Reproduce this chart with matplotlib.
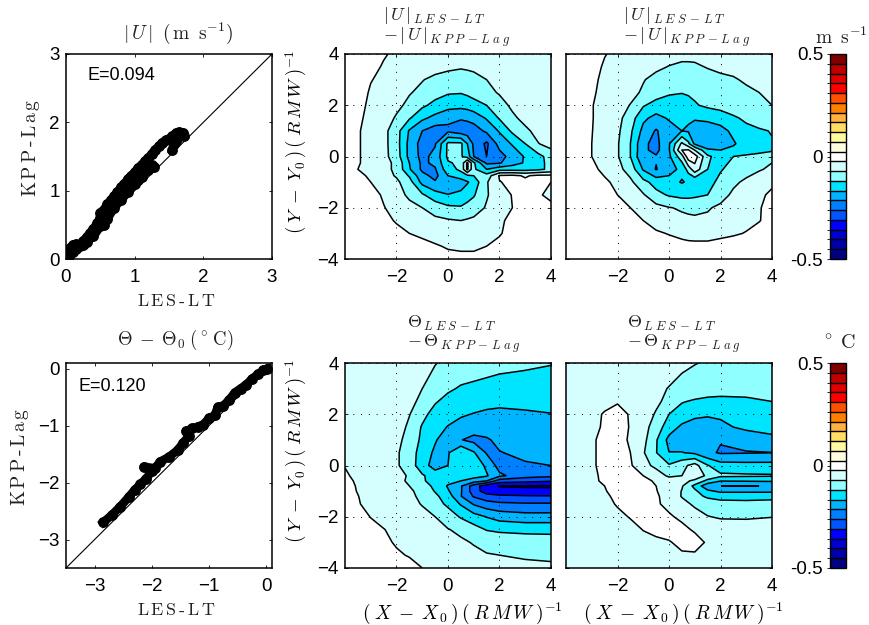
import numpy as np
import matplotlib
matplotlib.use('Agg')
import matplotlib.pyplot as plt
from matplotlib.colors import ListedColormap, BoundaryNorm
from matplotlib.cm import ScalarMappable

plt.rcParams['font.family'] = ['Liberation Sans', 'DejaVu Sans']
plt.rcParams['mathtext.fontset'] = 'cm'

W, H = 870, 625

# colour steps of the bar, bottom to top
bar_colors = ['#000080', '#0000a8', '#0000d0', '#0000ff', '#0055ff', '#0080ff', '#00b4ff',
              '#00e5ff', '#8fffff', '#d5ffff', '#ffffff', '#fffde0', '#fffaa0', '#ffdc64',
              '#ffb040', '#ff8000', '#ff5000', '#ff0000', '#e00000', '#c00000', '#800000']
bar_ticks = [-0.5, 0, 0.5]
bar_ticklabels = ['-0.5', '0', '0.5']

# scatter panels: |U|
u_les = [0.02, 0.05, 0.1, 0.15, 0.2, 0.25, 0.3, 0.35, 0.4, 0.45, 0.5, 0.5, 0.55, 0.6, 0.65, 0.7, 0.75, 0.8,
         0.85, 0.9, 0.95, 1.0, 1.05, 1.1, 1.15, 1.2, 1.25, 1.3, 1.35, 1.4, 1.45, 1.5, 1.55, 1.6, 1.65, 1.7, 1.72]
u_kpp = [0.02, 0.05, 0.1, 0.14, 0.2, 0.26, 0.32, 0.38, 0.44, 0.52, 0.6, 0.68, 0.72, 0.8, 0.86, 0.92, 0.98, 1.05,
         1.1, 1.17, 1.22, 1.27, 1.33, 1.38, 1.43, 1.48, 1.54, 1.6, 1.65, 1.7, 1.74, 1.76, 1.8, 1.84, 1.86, 1.85, 1.8]
u_les2 = [0.3, 0.4, 0.5, 0.55, 0.6, 0.7, 0.8, 0.9, 1.0, 1.05, 1.1, 1.2, 1.25, 1.28]
u_kpp2 = [0.25, 0.33, 0.48, 0.5, 0.58, 0.75, 0.86, 0.98, 1.1, 1.15, 1.2, 1.3, 1.37, 1.35]
u_les3 = [1.55, 1.57, 1.6]
u_kpp3 = [1.6, 1.68, 1.72]
u_les4 = [0.06, 0.1, 0.15, 0.2, 0.25]
u_kpp4 = [0.16, 0.21, 0.22, 0.19, 0.2]

# scatter panels: theta
t_les = [-2.85, -2.7, -2.55, -2.4, -2.3, -2.2, -2.1, -2.0, -2.14, -1.95, -1.85, -1.7, -1.55, -1.45, -1.35, -1.4,
         -1.3, -1.2, -1.1, -1.0, -0.9, -0.85, -0.75, -0.65, -0.55, -0.45, -0.35, -0.25, -0.15, -0.05, 0.02]
t_kpp = [-2.7, -2.57, -2.42, -2.25, -2.13, -2.03, -1.93, -1.8, -1.72, -1.75, -1.63, -1.55, -1.43, -1.3, -1.18, -1.1,
         -1.05, -1.02, -0.98, -0.87, -0.82, -0.68, -0.65, -0.55, -0.42, -0.35, -0.28, -0.18, -0.1, -0.03, 0.0]

# difference fields (raw steps: one contour every 5)
xb = [-4, -3.5, -3, -2.5, -2, -1.5, -1, -.5, 0, .5, .75, 1, 1.5, 2, 2.5, 3, 3.5, 4]
yb = [4, 3.5, 3, 2.5, 2, 1.5, 1, .5, 0, -.25, -.5, -.75, -1, -1.5, -2, -2.5, -3, -3.5, -4]
zb = [[-1, -2, -3, -4.5, -6, -6.5, -7, -7, -7, -7, -7, -7, -7, -7, -7, -7, -7, -7],
      [-1, -2, -3.5, -5.5, -6.5, -7, -8, -8.5, -9, -9.5, -9.3, -9, -8.5, -8, -7.5, -7.5, -7.5, -7.5],
      [-1, -2, -4.8, -6, -7, -8, -9.8, -11, -12, -12.5, -12, -11.5, -10, -9, -8.5, -8, -7.5, -7],
      [-1, -3, -5.5, -6.5, -8, -9.7, -11, -13, -14.5, -14.7, -14, -13, -11.5, -9.5, -8.5, -8, -7.5, -7],
      [-1.5, -3.5, -6, -7.5, -9, -11, -14, -16.5, -18, -18.5, -18, -17, -15, -12, -9, -8, -7.5, -7],
      [-2, -4, -6.5, -8, -10.5, -14.5, -19, -21.5, -24, -24.5, -24, -23, -19.5, -14.5, -11, -8.5, -7.5, -7],
      [-2.5, -4.5, -7, -8.5, -13, -20.5, -25, -27.5, -26, -28, -28, -27.5, -24, -19.5, -14, -11, -8.5, -7.5],
      [-2.5, -4.5, -7, -8.5, -13, -21.5, -27, -25.5, -14, -14, -20, -26, -31, -23, -19.5, -15, -10.2, -8],
      [-2.5, -4.5, -7, -8.5, -12.5, -21.5, -26.5, -23.5, -14, -14.5, -17, -25, -30, -27, -23, -19.5, -16.5, -13],
      [-2.5, -4.5, -7, -8.5, -11, -20, -26, -24, -15.5, -14, -4, -14, -26, -25.5, -22, -19.5, -17, -13],
      [-2.5, -5, -7.5, -8.5, -11, -19.5, -26, -25.5, -17, -14, -4, -14, -20, -17, -17, -17, -16, -14],
      [-1.5, -3.5, -6, -8, -10.5, -15.5, -23.5, -26.5, -20, -17, -16, -15, -13, -4.5, -4, -5.5, -4, -4],
      [-1.5, -3, -5, -7.5, -9, -13, -21.5, -24.5, -24, -23, -20.5, -18, -10.5, -5.2, -4, -4, -4, -5],
      [-.5, -2, -3.5, -5.5, -8, -11, -14.3, -18, -19.8, -18.5, -17, -15.5, -10.5, -7, -4.8, -3.5, -4.5, -6],
      [-.5, -1.5, -3, -4.8, -6.5, -8.5, -10, -12, -14, -14.5, -13.5, -12.5, -9.5, -7, -5, -3, -3, -4],
      [-.5, -1, -2, -3.5, -5.5, -6.5, -8, -9, -9.5, -10, -9.5, -9, -8, -6, -3.5, -2, -1.5, -1],
      [-.5, -1, -1.5, -2.5, -3.5, -5, -6, -7, -7.5, -8, -8, -8, -7, -5.5, -3, -2, -1, -1],
      [-.5, -1, -1, -1.5, -2, -3, -3.5, -4.5, -5.5, -6, -6, -6, -5, -3.5, -2, -1, -1, -.5],
      [-.5, -.5, -1, -1, -1.5, -2, -2.5, -3, -3.5, -3.5, -3.5, -3.5, -3, -2, -1, -1, -.5, -.5]]

xc = [-4, -3.5, -3, -2.5, -2, -1.5, -1, -.5, 0, .5, .75, 1, 1.5, 2, 2.5, 3, 3.5, 4]
yc = [4, 3.5, 3, 2.5, 2, 1.5, 1, .5, .25, 0, -.5, -1, -1.5, -2, -2.5, -3, -3.5, -4]
zc = [[-1, -1.5, -3, -4.8, -6, -6.5, -7, -7.5, -8, -8.5, -8.5, -8.5, -8, -7, -7, -6.5, -6.5, -6],
      [-1, -1.5, -3.5, -5.5, -6.5, -7.2, -8, -9, -10.2, -11, -11, -10.8, -9.7, -9, -8.5, -8, -7.5, -7],
      [-1, -2, -4, -6, -7, -8, -9.7, -11.5, -12.5, -13, -13, -13, -12, -11, -10.5, -9.3, -8, -7.5],
      [-1, -2, -4.5, -6, -7, -8.5, -10.7, -12.5, -14.2, -14.8, -14.5, -14, -13.5, -13, -12, -11, -10, -8.5],
      [-1, -2.5, -4.8, -6.5, -8, -10.2, -14.5, -17, -18, -17.5, -16.5, -15.5, -14, -13, -12, -11.5, -10.8, -10],
      [-1.5, -3, -4.8, -6.5, -8.5, -12.5, -19, -21.5, -19.5, -19, -19.5, -19.8, -19, -18, -15.8, -14, -13, -12],
      [-1.5, -3, -4.9, -6.5, -9, -14, -21.5, -25.5, -22, -20, -20.5, -21, -22.5, -21.5, -19, -16.5, -15.5, -14.8],
      [-1.5, -3, -5, -6.5, -9.5, -15, -24, -26.5, -20.5, -9, -14, -21, -24.5, -23, -20.5, -18, -16.5, -15.3],
      [-1.5, -3, -5, -6.5, -9.5, -15, -24, -26.5, -20.5, -5, -4.5, -10, -19, -20, -19, -18, -17, -16],
      [-1.5, -3, -5, -7, -9.5, -15, -24.5, -24.5, -21, -12, -2, -2.5, -14, -17.5, -15, -14, -13, -11],
      [-1, -2.5, -4, -6, -8.5, -12, -20.5, -25.3, -21.5, -19, -13, -7, -15, -15.5, -13, -12, -10.5, -9],
      [-1, -2, -3, -4.3, -6, -9, -13.5, -17, -18.5, -20.3, -19.5, -19.8, -17, -13.5, -11, -9, -7, -5.5],
      [-.5, -1.5, -2.5, -3.5, -5, -7, -9.5, -13.5, -15.5, -16.5, -16.5, -16, -15, -12, -9, -7, -5.5, -4.5],
      [-.5, -1, -2, -3, -4, -5, -7, -8.5, -9.8, -10.5, -10.8, -11, -10.5, -9, -7.5, -6.5, -5.2, -4],
      [-.5, -.5, -1, -2, -3, -4, -5, -6.5, -8, -9, -9.2, -9.3, -9, -8, -7, -6, -5.2, -3.5],
      [-.5, -.5, -1, -1.5, -2, -3, -3.5, -4.5, -5.2, -6, -6.3, -6.5, -6.5, -6, -5.5, -4.8, -3.5, -2.5],
      [-.5, -.5, -.5, -1, -1.5, -2, -2.5, -3, -3.5, -3.8, -4, -4, -4, -3.5, -3, -2.5, -2, -1.5],
      [-.5, -.5, -.5, -.5, -1, -1, -1.5, -2, -2, -2.5, -2.5, -2.5, -2.5, -2, -2, -1.5, -1, -1]]

xd = [-4, -3, -2, -1.5, -1, -.5, 0, .5, 1, 1.5, 2, 3, 4]
yd = [4, 3, 2, 1.5, 1, .5, 0, -.4, -.6, -.8, -1, -1.2, -1.5, -2, -2.5, -3, -3.5, -4]
zd = [[-6.5, -7, -8, -8.5, -9, -9.8, -11, -12, -12.5, -13, -13.5, -14, -14.7],
      [-6, -6.5, -7.5, -8.5, -10, -12, -14.3, -15.5, -16, -16.5, -17, -17.5, -18],
      [-5.5, -6, -7, -9.8, -13.5, -17, -18.5, -19.5, -20.2, -20.8, -21, -20.5, -20.1],
      [-5.5, -6, -7.5, -11, -15.5, -18.5, -20.2, -21.5, -22.5, -23, -23, -22.5, -22],
      [-5.5, -6.5, -8.5, -12, -16, -19.5, -23, -24.8, -26.5, -25.5, -24, -23, -22.5],
      [-5.3, -6.5, -9.3, -12.7, -17, -21, -20.5, -15, -19.5, -25.5, -25.2, -24, -23.5],
      [-5.1, -6.5, -9.3, -12.7, -17.5, -22.5, -20, -16, -16.5, -21, -27, -25.5, -25],
      [-4.67, -6.5, -8.5, -10.5, -14.5, -17, -18, -17.5, -18, -19.5, -24, -28, -29],
      [-4.3, -6.5, -8.5, -10.8, -14.5, -16.5, -18.5, -20, -22.5, -25, -32.5, -33.5, -34.5],
      [-4, -6.5, -8, -10, -13, -16, -20.5, -24.5, -32.5, -38, -40.3, -40.5, -40.5],
      [-3.82, -6.5, -7.8, -9, -12, -15.3, -19.5, -24.5, -32.5, -37.5, -38.5, -38.8, -39],
      [-3.3, -6.5, -7.5, -8.5, -11.5, -14, -17.5, -24.8, -30.5, -33, -34, -34.5, -34.7],
      [-2.75, -6.5, -7.5, -8.5, -10.3, -13, -16, -20.5, -25.5, -28, -29, -29.5, -29.5],
      [-2.5, -5.1, -6.5, -7.5, -8.5, -10, -12.5, -15.5, -18, -20.2, -22, -23, -23],
      [-2, -4, -5.8, -6.5, -7.5, -8.5, -9.8, -11, -13, -15.3, -16, -16.5, -16.5],
      [-1.5, -3.5, -5.3, -6, -6.5, -7.3, -8.2, -9.3, -10.3, -11, -11.5, -12, -12.5],
      [-1, -2.5, -4.6, -5.2, -6, -6.5, -7, -8, -9, -9.8, -10, -10.5, -11],
      [-.5, -2, -3.5, -4, -5, -5.5, -6.5, -7, -7.5, -8, -8.5, -9, -9]]

xe = [-4, -3, -2.5, -2, -1.5, -1, -.5, 0, .5, 1, 1.5, 2, 3, 4]
ye = [4, 3, 2.5, 2, 1.5, 1, .5, 0, -.4, -.6, -.8, -1, -1.2, -1.5, -2, -2.5, -3, -3.5, -4]
ze = [[-6.5, -6, -6, -6, -6.5, -7, -7.5, -8, -9, -9.8, -10.5, -11, -11.5, -12],
      [-7, -6.5, -6, -6, -6.5, -7.5, -9, -10.2, -11.5, -12.5, -13, -13.5, -14, -14],
      [-7, -6.5, -6, -5.5, -6, -7.5, -9, -11.5, -14.7, -15.5, -16, -16, -15.5, -15],
      [-7, -6, -4.7, -3, -5.5, -7.5, -10.5, -15, -17, -18.5, -19.5, -19.3, -18, -17],
      [-7, -6, -4.5, -3, -5.3, -8, -12.5, -17.5, -21, -23, -22, -21, -19, -18],
      [-7, -5.5, -4, -3, -5.7, -8.5, -14.5, -21.5, -23, -24, -24.8, -24.7, -23, -21.5],
      [-7, -5.5, -4, -3, -5, -9.5, -14.8, -19.9, -19.8, -21, -24, -25.5, -25.3, -25.1],
      [-7, -5.5, -4, -3, -4.5, -8, -11.5, -14.5, -11.5, -8, -14.7, -18, -18.3, -18.3],
      [-7, -5.5, -4.5, -3, -3.5, -5, -7, -11, -10, -7, -11, -14, -14.3, -14.5],
      [-7, -5.5, -4.6, -3, -3, -4, -5.5, -7, -8.5, -11, -16.5, -19.8, -19.6, -19.4],
      [-7, -6, -5, -3, -2.5, -3.5, -5, -7, -9.5, -16.5, -23.5, -25, -25.2, -24.8],
      [-7, -6, -5.3, -3.5, -2.5, -3.5, -4.8, -7, -10.2, -14, -19, -21, -21, -21],
      [-7, -6.5, -5.8, -4, -3, -3.5, -4.5, -6.5, -10.3, -13.5, -15.8, -16.5, -16.5, -16.3],
      [-7, -6.5, -6, -4.7, -3.5, -3.5, -4.5, -6, -8.5, -10.8, -12.5, -13.5, -13.8, -13.5],
      [-7.5, -7, -6.5, -5.8, -4.8, -4, -3.5, -4.5, -5.8, -8, -9.8, -10.5, -10.5, -10.1],
      [-7.5, -7.5, -7, -6.5, -6, -4.9, -4, -3.5, -4, -5.5, -6.5, -7.5, -8, -8],
      [-8, -8, -7.5, -7, -6.5, -6, -5.8, -5.3, -4, -3.5, -5.5, -6.5, -7, -7.5],
      [-8, -8, -8, -7.5, -7, -7, -6.5, -6, -5.5, -5.5, -6, -6.5, -7, -7.5],
      [-8, -8, -8, -8, -7.5, -7.5, -7, -7, -7, -7, -7, -7.5, -7.5, -8]]


def axpx(x0, y0, x1, y1):
    # axes from pixel box, y measured from the top
    return fig.add_axes([x0/W, 1-y1/H, (x1-x0)/W, (y1-y0)/H])


def to_field(raw):
    # raw step 5 is one contour interval of the bar
    return (np.array(raw)*0.952+2.38)/100


def style(ax):
    ax.tick_params(direction='in', length=2.5, width=0.6, labelsize=13.5, top=True, right=True)
    ax.tick_params(axis='x', pad=7)
    ax.tick_params(axis='y', pad=4.5)
    for s in ax.spines.values():
        s.set_linewidth(1.1)


def scatter_panel(ax, lim, ticks, traces, etext, epos, ylab_x):
    ax.plot(lim, lim, color='k', lw=0.8)
    for a, b in traces:
        ax.plot(a, b, '-o', color='k', ms=6.8, lw=6.2)
    ax.set_xlim(lim)
    ax.set_ylim(lim)
    ax.set_xticks(ticks)
    ax.set_yticks(ticks)
    style(ax)
    ax.text(epos[0], epos[1], etext, fontsize=13, va='center')
    ax.set_xlabel(r'$\mathrm{L\,E\,S\,\text{-}\,L\,T}$', fontsize=13, color='#222222')
    ax.xaxis.set_label_coords(0.535, -0.165)
    ax.set_ylabel(r'$\mathrm{K\,P\,P\,\text{-}\,L\,a\,g}$', fontsize=14, color='#222222')
    ax.yaxis.set_label_coords(ylab_x, 0.54)


def contour_panel(ax, x, y, raw):
    f = to_field(raw)
    ax.contourf(x, y, f, levels=levels, cmap=cmap, norm=norm)
    ax.contour(x, y, f, levels=levels, colors='k', linewidths=1.1, linestyles='solid')
    ax.set_xlim(-4, 4)
    ax.set_ylim(-4, 4)
    ax.set_xticks([-2, 0, 2, 4])
    ax.set_yticks([-4, -2, 0, 2, 4])
    ax.grid(True, color='k', lw=0.7, linestyle=(0, (1, 7)))
    ax.set_axisbelow(False)
    style(ax)


def bar_panel(cax):
    cb = fig.colorbar(ScalarMappable(norm=norm, cmap=cmap), cax=cax, drawedges=True, spacing='proportional')
    cb.dividers.set_linewidth(1.0)
    cb.outline.set_linewidth(1.0)
    cb.set_ticks(bar_ticks, labels=bar_ticklabels)
    cax.yaxis.set_ticks_position('left')
    cax.tick_params(length=2, width=0.6, labelsize=13.5, pad=3)


levels = np.linspace(-0.5, 0.5, 22)
cmap = ListedColormap(bar_colors)
norm = BoundaryNorm(levels, cmap.N)

fig = plt.figure(figsize=(W/100, H/100), dpi=100)

xlab = r'$(\;X\;-\;X_{\,0}\,)\,(\;R\,M\,W\;)^{-1}$'
ylab = r'$(\;Y\;-\;Y_{\,0}\,)\,(\;R\,M\,W\;)^{-1}$'
dark = '#222222'

ax1 = axpx(66, 54, 272, 259)
scatter_panel(ax1, [0, 3], [0, 1, 2, 3],
              [(u_les, u_kpp), (u_les2, u_kpp2), (u_les3, u_kpp3), (u_les4, u_kpp4)], 'E=0.094', (0.31, 2.68), -0.117)
fig.text(178/W, 1-33/H, r'$|\,U\,|\;\;(\,\mathrm{m\;\;s}^{-1})$', fontsize=14, ha='center', va='center', color=dark)

ax2 = axpx(345, 54, 551, 259)
contour_panel(ax2, xb, yb, zb)
ax2.set_ylabel(ylab, fontsize=13.5)
ax2.yaxis.set_label_coords(-0.177, 0.57)

ax3 = axpx(566, 54, 772, 259)
contour_panel(ax3, xc, yc, zc)
ax3.set_yticklabels([])

ax4 = axpx(66, 363, 272, 568)
scatter_panel(ax4, [-3.5, 0.1], [-3, -2, -1, 0], [(t_les, t_kpp)], 'E=0.120', (-3.28, -0.32), -0.17)
fig.text(175/W, 1-340/H, r'$\Theta\;-\;\Theta_0\;(^\circ\,\mathrm{C})$', fontsize=13.5, ha='center', va='center', color=dark)

ax5 = axpx(345, 363, 551, 568)
contour_panel(ax5, xd, yd, zd)
ax5.set_ylabel(ylab, fontsize=13.5)
ax5.yaxis.set_label_coords(-0.177, 0.57)
ax5.set_xlabel(xlab, fontsize=14)
ax5.xaxis.set_label_coords(0.57, -0.16)

ax6 = axpx(566, 363, 772, 568)
contour_panel(ax6, xe, ye, ze)
ax6.set_yticklabels([])
ax6.set_xlabel(xlab, fontsize=14)
ax6.xaxis.set_label_coords(0.57, -0.16)

# stacked panel titles
u_top = r'$|\,U\,|_{\,L\;E\;S\,-\,L\;T}$'
u_bot = r'$-\,|\,U\,|_{\,K\;P\;P\,-\,L\;a\;g}$'
t_top = r'$\Theta_{\,L\;E\;S\,-\,L\;T}$'
t_bot = r'$-\,\Theta_{\,K\;P\;P\,-\,L\;a\;g}$'
for xp in (383, 623):
    fig.text(xp/W, 1-15/H, u_top, fontsize=13, va='center', color=dark)
    fig.text(xp/W, 1-37/H, u_bot, fontsize=13, va='center', color=dark)
for xp in (407, 627):
    fig.text(xp/W, 1-323/H, t_top, fontsize=13, va='center', color=dark)
    fig.text(xp/W, 1-344/H, t_bot, fontsize=13, va='center', color=dark)

cax1 = axpx(830, 54, 846, 259)
bar_panel(cax1)
fig.text(841/W, 1-37/H, r'$\mathrm{m\;\;s}^{-1}$', fontsize=14, ha='center', va='center', color=dark)
cax2 = axpx(830, 363, 846, 568)
bar_panel(cax2)
fig.text(838/W, 1-343/H, r'$^\circ\;\mathrm{C}$', fontsize=14.5, ha='center', va='center', color=dark)

fig.savefig('out.png', dpi=100)
